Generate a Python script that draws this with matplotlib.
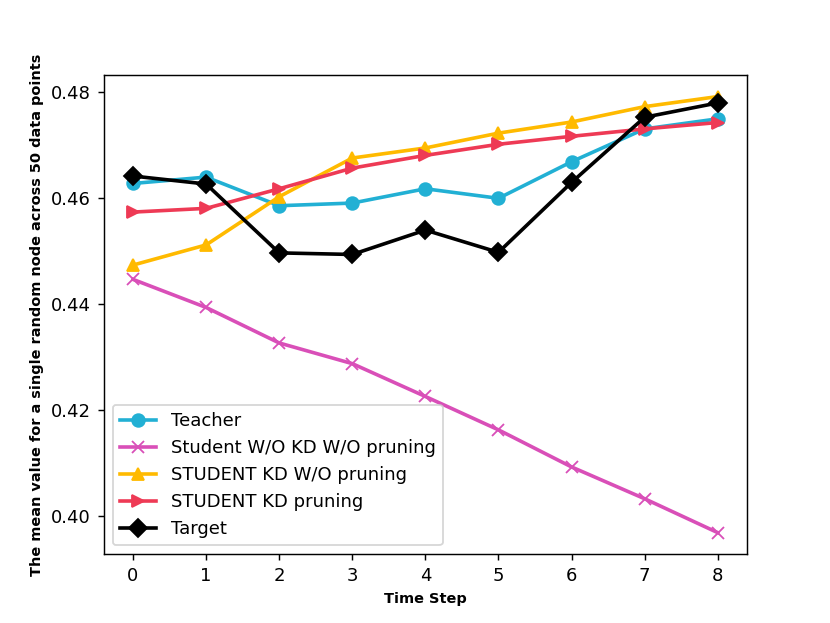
import matplotlib
matplotlib.use("Agg")
import matplotlib.pyplot as plt

time_steps = [0, 1, 2, 3, 4, 5, 6, 7, 8]

teacher = [0.4628, 0.4640, 0.4586, 0.4591, 0.4618, 0.4600, 0.4669, 0.4731, 0.4750]
student_no_kd = [0.4447, 0.4394, 0.4327, 0.4288, 0.4226, 0.4163, 0.4093, 0.4033, 0.3969]
student_kd = [0.4474, 0.4512, 0.4603, 0.4676, 0.4695, 0.4723, 0.4744, 0.4773, 0.4792]
student_kd_pruning = [0.4574, 0.4581, 0.4618, 0.4657, 0.4681, 0.4702, 0.4717, 0.4731, 0.4743]
target = [0.4642, 0.4627, 0.4497, 0.4494, 0.4540, 0.4498, 0.4630, 0.4753, 0.4780]

fig = plt.figure(figsize=(830 / 130, 623 / 130), dpi=130)

plt.plot(time_steps, teacher, marker='o', color='#22B0D4', linewidth=2, markersize=7, label='Teacher')
plt.plot(time_steps, student_no_kd, marker='x', color='#D94FB8', linewidth=2, markersize=7, label='Student W/O KD W/O pruning')
plt.plot(time_steps, student_kd, marker='^', color='#FFBA00', linewidth=2, markersize=7, label='STUDENT KD W/O pruning')
plt.plot(time_steps, student_kd_pruning, marker='>', color='#EE3A55', linewidth=2, markersize=7, label='STUDENT KD pruning')
plt.plot(time_steps, target, marker='D', color='black', linewidth=2, markersize=7, label='Target')

plt.xlabel("Time Step", fontsize=8, fontweight='bold')
plt.ylabel("The mean value for a single random node across 50 data points", fontsize=8, fontweight='bold')
plt.xticks(time_steps)
plt.legend(loc='lower left')

plt.savefig("out.png", dpi=130)
